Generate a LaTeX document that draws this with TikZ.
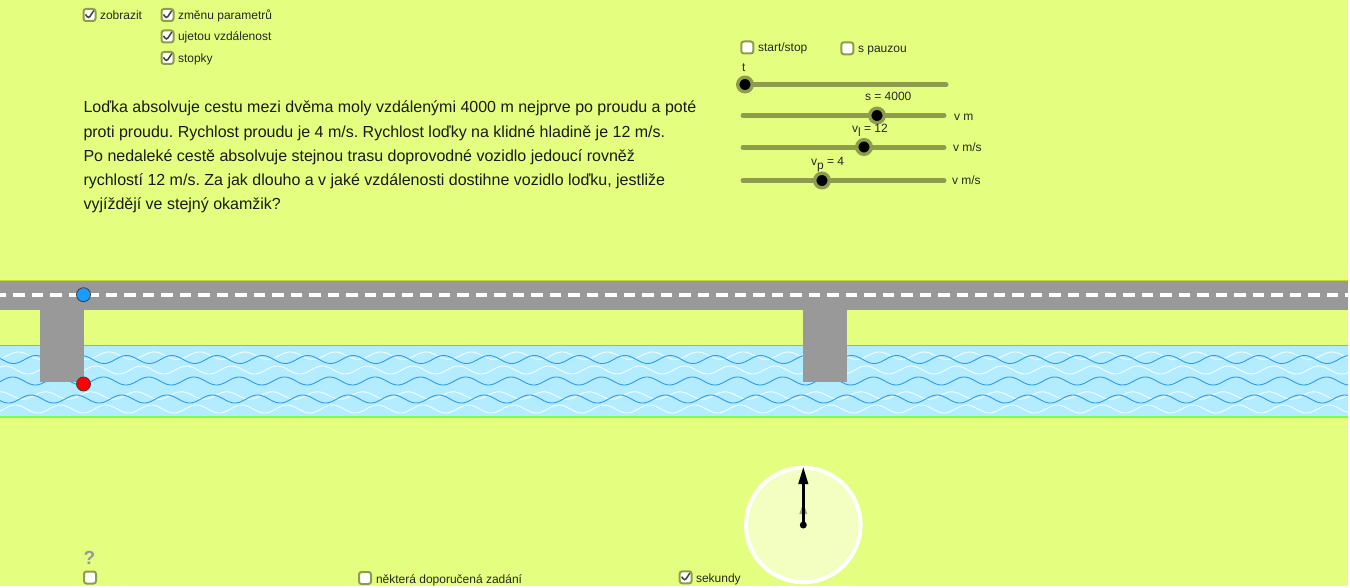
\documentclass[tikz,border=0pt]{standalone}
\usepackage{fontspec}
\setmainfont{Liberation Sans}
\usetikzlibrary{arrows.meta}
\frenchspacing
\definecolor{bgc}{HTML}{E4FF80}
\definecolor{road}{HTML}{999999}
\definecolor{water}{HTML}{B3ECFF}
\definecolor{olive}{HTML}{8F9B4D}
\definecolor{waveb}{HTML}{2E9BEA}
\definecolor{wavew}{HTML}{F4FCFF}
\definecolor{clockf}{HTML}{F2FFC0}
\definecolor{roadedge}{HTML}{C4D82E}
\definecolor{cardot}{HTML}{1C9BFF}
\newcommand{\wavy}[4]{\draw[wavestyle,#4] plot[domain=0:1348,samples=700] (\x,{#1+#2*cos((\x-#3)/45.3*360)});}
\tikzset{
  x=1pt,y=-1pt,
  every node/.style={inner sep=0pt,outer sep=0pt},
  wavestyle/.style={line width=0.9pt},
  lab/.style={anchor=base west,font=\fontsize{12}{14}\selectfont,text=black!85},
  para/.style={anchor=base west,font=\fontsize{16}{20}\selectfont,text=black!90},
  box/.style={draw=olive,line width=2pt,fill=white,rounded corners=2.5pt,minimum size=12pt},
  checked/.style={box,path picture={\draw[black!75,line width=1.5pt]
     ([shift={(-4,-0.6)}]path picture bounding box.center) --
     ([shift={(-1,3.6)}]path picture bounding box.center) --
     ([shift={(4.4,-4.6)}]path picture bounding box.center);}},
  track/.style={draw=olive,line width=5pt,line cap=round},
  knob/.style={circle,fill=black,draw=olive,line width=3.4pt,minimum size=14.6pt},
  pillar/.style={fill=road},
}
\begin{document}
\begin{tikzpicture}
\useasboundingbox (0,0) rectangle (1350,588);
\fill[white] (0,0) rectangle (1350,588);
\fill[bgc] (0,0) rectangle (1348,586);
% water
\fill[water] (0,345) rectangle (1348,417);
\begin{scope}
\clip (0,345) rectangle (1348,417);
\wavy{355.7}{3.7}{131.6}{wavew}
\wavy{370}{4}{118.6}{wavew}
\wavy{395.5}{3.7}{113.6}{wavew}
\wavy{409}{4}{128.6}{wavew}
\wavy{359.5}{4}{104}{waveb}
\wavy{381}{4}{126}{waveb}
\wavy{399}{4}{99}{waveb}
\end{scope}
\draw[color=cyan!70!white,line width=1pt] (0,345.5) -- (1348,345.5);
\draw[color=green!45!bgc,line width=1.5pt] (0,417) -- (1348,417);
% road
\fill[road] (0,281) rectangle (1348,309.5);
\draw[color=roadedge,line width=1pt] (0,280.5) -- (1348,280.5);
\draw[white,line width=3pt,dash pattern=on 11.5pt off 7pt,dash phase=5.2pt] (0,295) -- (1348,295);
% pillars
\fill[pillar] (40,309) rectangle (83.5,381.7);
\fill[pillar] (802.7,309) rectangle (847,381.7);
% dots
\node[circle,fill=cardot,draw=black!75,line width=0.8pt,minimum size=14pt] (car) at (83.5,294.7) {};
\node[circle,fill=red,draw=black!75,line width=0.8pt,minimum size=14pt] (boat) at (83.5,384) {};
% top checkboxes
\node[checked] (c1) at (89.5,15) {};
\node[lab] (t1) at (100,20) {zobrazit};
\node[checked] (c2) at (167.5,15) {};
\node[lab] (t2) at (178,20) {změnu parametrů};
\node[checked] (c3) at (167.5,36.5) {};
\node[lab] (t3) at (178,41) {ujetou vzdálenost};
\node[checked] (c4) at (167.5,58) {};
\node[lab] (t4) at (178,63) {stopky};
% paragraph
\node[para] (p1) at (83.5,112.7) {Loďka absolvuje cestu mezi dvěma moly vzdálenými 4000 m nejprve po proudu a poté};
\node[para] (p2) at (83.5,137.7) {proti proudu. Rychlost proudu je 4 m/s. Rychlost loďky na klidné hladině je 12 m/s.};
\node[para] (p3) at (83.5,161.5) {Po nedaleké cestě absolvuje stejnou trasu doprovodné vozidlo jedoucí rovněž};
\node[para] (p4) at (83.5,185.3) {rychlostí 12 m/s. Za jak dlouho a v jaké vzdálenosti dostihne vozidlo loďku, jestliže};
\node[para] (p5) at (83.5,209.2) {vyjíždějí ve stejný okamžik?};
% start controls
\node[box] (b1) at (747.3,47.5) {};
\node[lab] (t5) at (758,52) {start/stop};
\node[box] (b2) at (847.3,48.3) {};
\node[lab] (t6) at (858,53) {s pauzou};
% sliders
\coordinate (s1a) at (745,84.5); \coordinate (s1b) at (946,84.5);
\coordinate (s2a) at (743,115.5); \coordinate (s2b) at (944,115.5);
\coordinate (s3a) at (743,147.5); \coordinate (s3b) at (944,147.5);
\coordinate (s4a) at (743,180.5); \coordinate (s4b) at (944,180.5);
\draw[track] (s1a) -- (s1b);
\draw[track] (s2a) -- (s2b);
\draw[track] (s3a) -- (s3b);
\draw[track] (s4a) -- (s4b);
\node[knob] (k1) at (745,84.5) {};
\node[knob] (k2) at (877,115.5) {};
\node[knob] (k3) at (864,147) {};
\node[knob] (k4) at (822,180.5) {};
\node[lab] (l1) at (742,72) {t};
\node[lab] (l2) at (865,101) {s = 4000};
\node[lab] (l3) at (852,133) {v\raisebox{-3.5pt}{l} = 12};
\node[lab] (l4) at (811,166) {v\raisebox{-4pt}{p} = 4};
\node[lab] (u1) at (954,120.5) {v m};
\node[lab] (u2) at (953,152) {v m/s};
\node[lab] (u3) at (952,185) {v m/s};
% clock
\node[circle,fill=clockf,draw=white,line width=4pt,minimum size=114.5pt] (clock) at (803.3,525) {};
\coordinate (gtip) at (803.3,503);
\coordinate (gl) at (799.3,514);
\coordinate (gr) at (807.3,514);
\fill[black!35!clockf] (gtip) -- (gl) -- (gr) -- cycle;
\coordinate (tip) at (803.3,467);
\draw[black,line width=2.4pt,-{Triangle[length=17pt,width=9.5pt]}] (clock.center) -- (tip);
\node[circle,fill=black,minimum size=7pt] (hub) at (clock.center) {};
% bottom
\node[anchor=base west,font=\fontsize{19}{20}\selectfont\bfseries,text=gray!80] (q) at (83.5,564) {?};
\node[box] (b3) at (90,577.5) {};
\node[box] (b4) at (365,578) {};
\node[lab] (t7) at (376,583) {některá doporučená zadání};
\node[checked] (c5) at (685.7,577.3) {};
\node[lab] (t8) at (696,582) {sekundy};
\end{tikzpicture}
\end{document}
